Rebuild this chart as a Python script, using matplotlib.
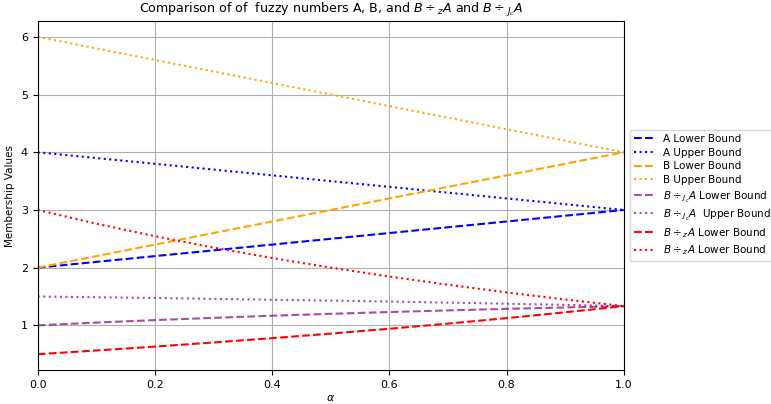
import matplotlib
matplotlib.use("Agg")
import matplotlib.pyplot as plt

alpha = [0.0, 0.1, 0.2, 0.3, 0.4, 0.5, 0.6, 0.7, 0.8, 0.9, 1.0]
a_lower = [2.0, 2.1, 2.2, 2.3, 2.4, 2.5, 2.6, 2.7, 2.8, 2.9, 3.0]
a_upper = [4.0, 3.9, 3.8, 3.7, 3.6, 3.5, 3.4, 3.3, 3.2, 3.1, 3.0]
b_lower = [2.0, 2.2, 2.4, 2.6, 2.8, 3.0, 3.2, 3.4, 3.6, 3.8, 4.0]
b_upper = [6.0, 5.8, 5.6, 5.4, 5.2, 5.0, 4.8, 4.6, 4.4, 4.2, 4.0]
jc_lower = [1.0, 1.048, 1.091, 1.130, 1.167, 1.2, 1.231, 1.259, 1.286, 1.310, 1.333]
jc_upper = [1.5, 1.487, 1.474, 1.459, 1.444, 1.429, 1.412, 1.394, 1.375, 1.355, 1.333]
z_lower = [0.5, 0.564, 0.632, 0.703, 0.778, 0.857, 0.941, 1.030, 1.125, 1.226, 1.333]
z_upper = [3.0, 2.762, 2.545, 2.348, 2.167, 2.0, 1.846, 1.704, 1.571, 1.448, 1.333]

fig, ax = plt.subplots(figsize=(7.71, 4.04), dpi=100)
fig.subplots_adjust(left=0.049, right=0.809, top=0.948, bottom=0.084)

ax.plot(alpha, a_lower, '--', color='blue', label='A Lower Bound')
ax.plot(alpha, a_upper, ':', color='blue', label='A Upper Bound')
ax.plot(alpha, b_lower, '--', color='orange', label='B Lower Bound')
ax.plot(alpha, b_upper, ':', color='orange', label='B Upper Bound')
ax.plot(alpha, jc_lower, '--', color='purple', alpha=0.7, label=r'$B\div_{J_c}A$ Lower Bound')
ax.plot(alpha, jc_upper, ':', color='purple', alpha=0.7, label=r'$B\div_{J_c}A$  Upper Bound')
ax.plot(alpha, z_lower, '--', color='red', label=r'$B\div_{z}A$ Lower Bound')
ax.plot(alpha, z_upper, ':', color='red', label=r'$B\div_{z}A$ Lower Bound')

ax.set_xlim(0, 1)
ax.set_xlabel(r'$\alpha$', fontsize=8, labelpad=2)
ax.set_ylabel('Membership Values', fontsize=7.5)
ax.set_title(r'Comparison of of  fuzzy numbers A, B, and $B\div_{z}A$ and $B\div_{J_c}A$', fontsize=9.1)
ax.tick_params(labelsize=8)
ax.grid(True)
ax.legend(loc='center left', bbox_to_anchor=(1.0, 0.5), fontsize=7.5,
          labelspacing=0.35, handlelength=2.0, borderaxespad=0.6)

fig.savefig('out.png', dpi=100)
